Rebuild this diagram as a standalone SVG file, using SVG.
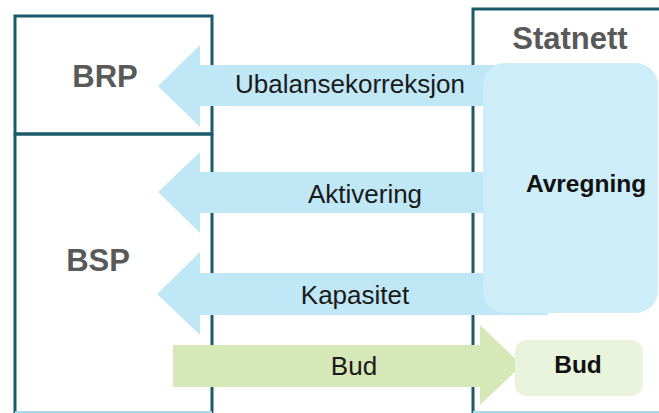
<svg xmlns="http://www.w3.org/2000/svg" width="659" height="413" viewBox="0 0 659 413">
<style>
.frame{fill:none;stroke:#1b5a6b;stroke-width:3}
.base{fill:none;stroke:#a9dbee;stroke-width:2}
.title{font-family:"Liberation Sans",Arial,sans-serif;font-weight:bold;font-size:31px;fill:#595959;text-anchor:middle}
.lbl{font-family:"Liberation Sans",Arial,sans-serif;font-size:26px;fill:#1a1a1a;text-anchor:middle}
.blbl{font-family:"Liberation Sans",Arial,sans-serif;font-weight:bold;font-size:24.5px;fill:#111;text-anchor:middle}
.blue{fill:#bfe7f6}
.green{fill:#d7e8b8}
</style>
<rect width="659" height="413" fill="#ffffff"/>
<g id="BRP">
<path class="frame" d="M15,134 V16 H212 V134 Z"/>
<text class="title" x="105" y="87">BRP</text>
</g>
<g id="BSP">
<path class="frame" d="M15,134 V413 M212,134 V413 M15,134 H212"/>
<line class="base" x1="15" y1="412" x2="212" y2="412"/>
<text class="title" x="98" y="271">BSP</text>
</g>
<g id="Statnett">
<path class="frame" d="M473,413 V9 H659"/>
<line class="base" x1="473" y1="412" x2="659" y2="412"/>
<text class="title" x="570" y="49">Statnett</text>
</g>
<g id="connectors">
<polygon class="blue" points="158,86 200,45 200,65 500,65 500,106 200,106 200,127"/>
<polygon class="blue" points="158,192 200,152 200,172 500,172 500,213 200,213 200,233"/>
<polygon class="blue" points="157,294 200,252 200,273 548,273 548,315 200,315 200,335"/>
<polygon class="green" points="173,345 480,345 480,325 522,365 480,405 480,387 173,387"/>
<text class="lbl" x="350" y="93">Ubalansekorreksjon</text>
<text class="lbl" x="365" y="203">Aktivering</text>
<text class="lbl" x="355" y="304">Kapasitet</text>
<text class="lbl" x="354" y="375">Bud</text>
</g>
<g id="Avregning">
<rect x="483" y="63" width="175" height="250" rx="22" fill="#cdeef9"/>
<text class="blbl" x="586" y="192">Avregning</text>
</g>
<g id="BudBox">
<rect x="515" y="340" width="128" height="56" rx="12" fill="#eaf3dc"/>
<text class="blbl" x="578" y="373">Bud</text>
</g>
</svg>
